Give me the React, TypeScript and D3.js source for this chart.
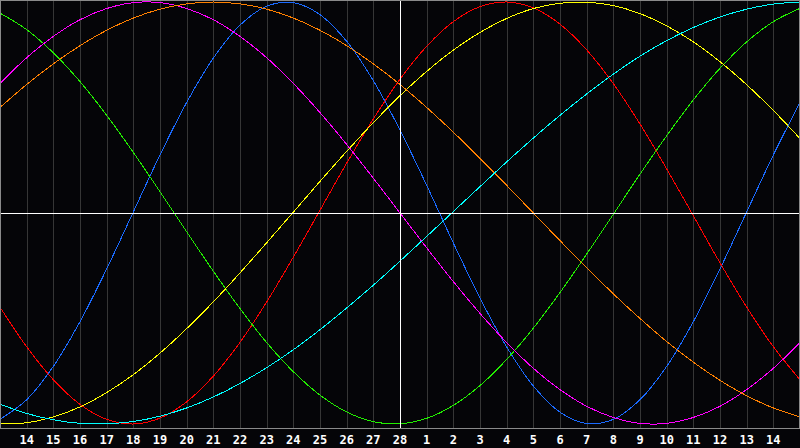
import * as React from "react"
import * as d3 from "d3"

// day slots 0..30 (13th of last month .. 15th of this month)
const days = [
  "13", "14", "15", "16", "17", "18", "19", "20", "21", "22", "23", "24", "25", "26", "27", "28",
  "1", "2", "3", "4", "5", "6", "7", "8", "9", "10", "11", "12", "13", "14", "15",
]
// which slots get a label under the axis
const labelled = d3.range(1, 30)

// values in percent, one per day slot
const physical = [-97.8, -88.5, -72.7, -51.5, -26.5, 0.5, 27.5, 52.4, 73.4, 89.0, 98.0, 99.7, 94.0, 81.4, 62.7, 39.3, 13.1, -14.2, -40.3, -63.5, -82.0, -94.4, -99.8, -97.8, -88.5, -72.7, -51.5, -26.5, 0.5, 27.5, 52.4]
const emotional = [-44.6, -63.4, -79.0, -90.7, -97.8, -100, -97.2, -89.5, -77.3, -61.3, -42.2, -20.9, 1.3, 23.6, 44.6, 63.4, 79.0, 90.7, 97.8, 100, 97.2, 89.5, 77.3, 61.3, 42.2, 20.9, -1.3, -23.6, -44.6, -63.4, -79.0]
const intellectual = [94.7, 86.9, 75.9, 62.3, 46.3, 28.7, 10.1, -8.9, -27.6, -45.3, -61.4, -75.2, -86.3, -94.3, -98.9, -99.9, -97.3, -91.2, -81.8, -69.4, -54.6, -37.7, -19.5, -0.6, 18.4, 36.6, 53.6, 68.6, 81.1, 90.7, 97.0]
const intuitive = [61.4, 73.6, 83.7, 91.6, 96.9, 99.7, 99.7, 96.9, 91.6, 83.7, 73.6, 61.4, 47.6, 32.5, 16.5, 0, -16.5, -32.5, -47.6, -61.4, -73.6, -83.7, -91.6, -96.9, -99.7, -99.7, -96.9, -91.6, -83.7, -73.6, -61.4]
const aesthetic = [-99.9, -99.4, -96.6, -91.9, -85.1, -76.6, -66.4, -54.8, -42.1, -28.4, -14.1, 0.4, 15.0, 29.2, 42.8, 55.6, 67.1, 77.2, 85.6, 92.2, 96.9, 99.4, 99.9, 98.3, 94.5, 88.7, 81.1, 71.7, 60.8, 48.6, 35.3]
const awareness = [50, 60.9, 70.7, 79.3, 86.6, 92.4, 96.6, 99.1, 100, 99.1, 96.6, 92.4, 86.6, 79.3, 70.7, 60.9, 50, 38.3, 25.9, 13.1, 0, -13.1, -25.9, -38.3, -50, -60.9, -70.7, -79.3, -86.6, -92.4, -96.6]
const spiritual = [-90.6, -95.0, -98.0, -99.7, -99.9, -98.8, -96.3, -92.4, -87.2, -80.8, -73.3, -64.8, -55.3, -45.0, -34.2, -22.8, -11.1, 0.7, 12.5, 24.2, 35.5, 46.3, 56.4, 65.8, 74.3, 81.7, 87.9, 92.9, 96.6, 99.0, 100]

const series = [
  { name: "physical", values: physical, color: "#1a6aff" },
  { name: "emotional", values: emotional, color: "#ff0000" },
  { name: "intellectual", values: intellectual, color: "#22ee00" },
  { name: "intuitive", values: intuitive, color: "#ff00ff" },
  { name: "aesthetic", values: aesthetic, color: "#ffff00" },
  { name: "awareness", values: awareness, color: "#ff8000" },
  { name: "spiritual", values: spiritual, color: "#00ffff" },
]

const W = 800
const H = 448
const plotBottom = 428
const todayIndex = 15

export default function App(): React.JSX.Element {
  React.useEffect(() => {
    document.body.style.margin = "0"
    document.body.style.background = "#050508"
  }, [])

  const x = d3.scaleLinear().domain([0, days.length - 1]).range([0, W])
  const y = d3.scaleLinear().domain([-100, 100]).range([424, 2])

  const line = d3
    .line<number>()
    .x((_d, i) => x(i))
    .y((d) => y(d))
    .curve(d3.curveCatmullRom)

  return (
    <svg width={W} height={H} style={{ display: "block", background: "#050508" }}>
      <rect x={0} y={0} width={W} height={H} fill="#050508" />
      {/* day grid */}
      <g shapeRendering="crispEdges">
        {labelled.map((i) => (
          <line
            key={i}
            x1={Math.round(x(i)) + 0.5}
            x2={Math.round(x(i)) + 0.5}
            y1={0}
            y2={plotBottom}
            stroke="#363636"
            strokeWidth={1}
          />
        ))}
      </g>
      {/* curves */}
      <g fill="none" strokeWidth={1} shapeRendering="crispEdges">
        {series.map((s) => (
          <path key={s.name} d={line(s.values) ?? ""} stroke={s.color} />
        ))}
      </g>
      {/* today + zero line */}
      <g shapeRendering="crispEdges" stroke="#ffffff" strokeWidth={1}>
        <line x1={0} x2={W} y1={y(0) + 0.5} y2={y(0) + 0.5} />
        <line
          x1={Math.round(x(todayIndex)) + 0.5}
          x2={Math.round(x(todayIndex)) + 0.5}
          y1={0}
          y2={plotBottom}
        />
      </g>
      {/* frame */}
      <g shapeRendering="crispEdges" stroke="#8a8a8a" strokeWidth={1} fill="none">
        <line x1={0} x2={W} y1={0.5} y2={0.5} />
        <line x1={0.5} x2={0.5} y1={0} y2={plotBottom} />
        <line x1={W - 0.5} x2={W - 0.5} y1={0} y2={plotBottom} />
        <line x1={0} x2={W} y1={plotBottom + 0.5} y2={plotBottom + 0.5} />
      </g>
      {/* labels */}
      <g
        fill="#ffffff"
        fontFamily="'DejaVu Sans Mono', monospace"
        fontWeight="bold"
        fontSize={12}
        textAnchor="middle"
      >
        {labelled.map((i) => (
          <text key={i} x={x(i)} y={443.5}>
            {days[i]}
          </text>
        ))}
      </g>
    </svg>
  )
}
